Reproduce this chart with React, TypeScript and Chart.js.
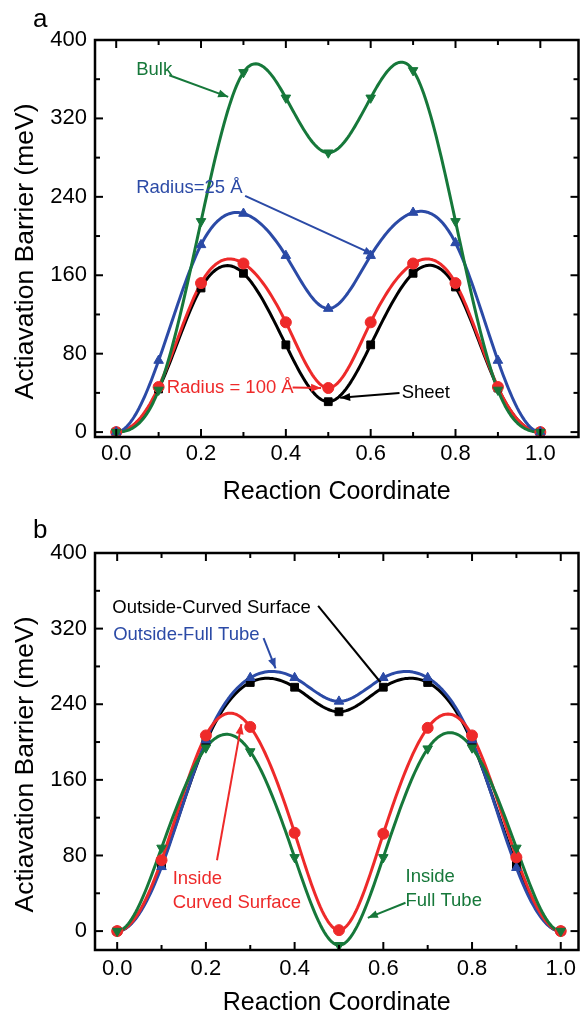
import React, { useEffect, useRef } from 'react';
import { Chart, registerables } from 'chart.js';

Chart.register(...registerables);

const FONT = '"Liberation Sans", Arial, Helvetica, sans-serif';

// ---------- data ----------
const reactionCoord = [0, 0.1, 0.2, 0.3, 0.4, 0.5, 0.6, 0.7, 0.8, 0.9, 1.0];
const xTickValues = [0, 0.2, 0.4, 0.6, 0.8, 1.0];
const xMinorTicks = [0.1, 0.3, 0.5, 0.7, 0.9];
const yTickValues = [0, 80, 160, 240, 320, 400];
const yMinorTicks = [40, 120, 200, 280, 360];

// panel a
const sheetA = [0, 44, 147, 162, 89, 31, 89, 162, 148, 45, 0];
const radius100A = [0, 46, 152, 172, 112, 45, 112, 172, 152, 46, 0];
const radius25A = [0, 73, 191, 223, 180, 126, 180, 224, 193, 73, 0];
const bulkA = [0, 43, 215, 367, 341, 285, 341, 369, 215, 43, 0];

// panel b
const outsideCurvedB = [0, 70, 200, 263, 258, 232, 258, 263, 200, 70, 0];
const outsideFullB = [0, 68, 202, 268, 268, 243, 268, 268, 202, 67, 0];
const insideCurvedB = [0, 75, 207, 216, 104, 1, 103, 215, 207, 78, 0];
const insideFullB = [0, 88, 194, 190, 78, -15, 78, 193, 194, 88, 0];

const GREEN = '#16783a';
const BLUE = '#2b4aa6';
const RED = '#ee2a2a';
const BLACK = '#000000';

type Ann = { lines: string[]; x: number; y: number; color: string; arrow?: [number, number, number, number]; head?: boolean };

const annotationsA: Ann[] = [
  { lines: ['Bulk'], x: 0.047, y: 369, color: GREEN, arrow: [0.125, 364, 0.264, 342], head: true },
  { lines: ['Radius=25 Å'], x: 0.047, y: 249, color: BLUE, arrow: [0.304, 241, 0.607, 181], head: true },
  { lines: ['Radius = 100 Å'], x: 0.119, y: 45, color: RED, arrow: [0.416, 45.5, 0.483, 45], head: true },
  { lines: ['Sheet'], x: 0.673, y: 40, color: BLACK, arrow: [0.668, 40, 0.528, 35], head: true },
];

const annotationsB: Ann[] = [
  { lines: ['Outside-Curved Surface'], x: -0.011, y: 342, color: BLACK, arrow: [0.453, 344, 0.594, 263], head: false },
  { lines: ['Outside-Full Tube'], x: -0.009, y: 313, color: BLUE, arrow: [0.330, 310, 0.357, 278], head: true },
  { lines: ['Inside', 'Curved Surface'], x: 0.125, y: 55, color: RED, arrow: [0.225, 75, 0.28, 219], head: true },
  { lines: ['Inside', 'Full Tube'], x: 0.65, y: 57, color: GREEN, arrow: [0.65, 30, 0.565, 14], head: true },
];

// clamped (zero end slope) cubic spline through the data points
function splineSecondDerivs(xs: number[], ys: number[]): number[] {
  const n = xs.length;
  const a = new Array(n).fill(0);
  const b = new Array(n).fill(0);
  const c = new Array(n).fill(0);
  const d = new Array(n).fill(0);
  const h0 = xs[1] - xs[0];
  b[0] = 2 * h0;
  c[0] = h0;
  d[0] = 6 * ((ys[1] - ys[0]) / h0);
  for (let i = 1; i < n - 1; i++) {
    const hl = xs[i] - xs[i - 1];
    const hr = xs[i + 1] - xs[i];
    a[i] = hl;
    b[i] = 2 * (hl + hr);
    c[i] = hr;
    d[i] = 6 * ((ys[i + 1] - ys[i]) / hr - (ys[i] - ys[i - 1]) / hl);
  }
  const hn = xs[n - 1] - xs[n - 2];
  a[n - 1] = hn;
  b[n - 1] = 2 * hn;
  d[n - 1] = 6 * (0 - (ys[n - 1] - ys[n - 2]) / hn);
  // Thomas algorithm
  for (let i = 1; i < n; i++) {
    const m = a[i] / b[i - 1];
    b[i] -= m * c[i - 1];
    d[i] -= m * d[i - 1];
  }
  const M = new Array(n).fill(0);
  M[n - 1] = d[n - 1] / b[n - 1];
  for (let i = n - 2; i >= 0; i--) M[i] = (d[i] - c[i] * M[i + 1]) / b[i];
  return M;
}

const splinePlugin = {
  id: 'smoothLines',
  beforeDatasetsDraw(chart: any) {
    const { ctx } = chart;
    const xs = chart.scales.x;
    const ys = chart.scales.y;
    const metas = chart.getSortedVisibleDatasetMetas().slice().reverse();
    ctx.save();
    metas.forEach((meta: any) => {
      const ds = chart.data.datasets[meta.index];
      const px = ds.data.map((p: any) => p.x);
      const py = ds.data.map((p: any) => p.y);
      const M = splineSecondDerivs(px, py);
      ctx.strokeStyle = ds.borderColor;
      ctx.lineWidth = 3;
      ctx.lineJoin = 'round';
      ctx.lineCap = 'round';
      ctx.beginPath();
      for (let i = 0; i < px.length - 1; i++) {
        const h = px[i + 1] - px[i];
        const steps = 24;
        for (let k = i === 0 ? 0 : 1; k <= steps; k++) {
          const x = px[i] + (h * k) / steps;
          const A = px[i + 1] - x;
          const B = x - px[i];
          const y =
            (M[i] * A * A * A) / (6 * h) +
            (M[i + 1] * B * B * B) / (6 * h) +
            (py[i] / h - (M[i] * h) / 6) * A +
            (py[i + 1] / h - (M[i + 1] * h) / 6) * B;
          const X = xs.getPixelForValue(x);
          const Y = ys.getPixelForValue(y);
          if (i === 0 && k === 0) ctx.moveTo(X, Y);
          else ctx.lineTo(X, Y);
        }
      }
      ctx.stroke();
    });
    ctx.restore();
  },
};

// ---------- plugin: frame, inward ticks, annotations ----------
const frameTicksPlugin = {
  id: 'frameTicks',
  afterDraw(chart: any, _args: any, opts: any) {
    const { ctx, chartArea } = chart;
    const { left, right, top, bottom } = chartArea;
    const xs = chart.scales.x;
    const ys = chart.scales.y;
    ctx.save();
    ctx.strokeStyle = '#000';
    ctx.lineWidth = 2.5;
    ctx.strokeRect(left, top, right - left, bottom - top);
    ctx.lineWidth = 2;
    const seg = (x1: number, y1: number, x2: number, y2: number) => {
      ctx.beginPath();
      ctx.moveTo(x1, y1);
      ctx.lineTo(x2, y2);
      ctx.stroke();
    };
    const maj = 8;
    const mnr = 5;
    xTickValues.forEach((v) => {
      const p = xs.getPixelForValue(v);
      seg(p, bottom, p, bottom - maj);
      seg(p, top, p, top + maj);
    });
    xMinorTicks.forEach((v) => {
      const p = xs.getPixelForValue(v);
      seg(p, bottom, p, bottom - mnr);
      seg(p, top, p, top + mnr);
    });
    yTickValues.forEach((v) => {
      const p = ys.getPixelForValue(v);
      seg(left, p, left + maj, p);
      seg(right, p, right - maj, p);
    });
    yMinorTicks.forEach((v) => {
      const p = ys.getPixelForValue(v);
      seg(left, p, left + mnr, p);
      seg(right, p, right - mnr, p);
    });

    // annotations
    const anns: Ann[] = opts.annotations || [];
    anns.forEach((a) => {
      ctx.fillStyle = a.color;
      ctx.strokeStyle = a.color;
      ctx.font = `18.5px ${FONT}`;
      ctx.textAlign = 'left';
      ctx.textBaseline = 'middle';
      const tx = xs.getPixelForValue(a.x);
      const ty = ys.getPixelForValue(a.y);
      a.lines.forEach((l, i) => ctx.fillText(l, tx, ty + i * 24));
      if (a.arrow) {
        const [ax1, ay1, ax2, ay2] = a.arrow;
        const x1 = xs.getPixelForValue(ax1);
        const y1 = ys.getPixelForValue(ay1);
        const x2 = xs.getPixelForValue(ax2);
        const y2 = ys.getPixelForValue(ay2);
        ctx.lineWidth = 2;
        seg(x1, y1, x2, y2);
        if (a.head) {
          const ang = Math.atan2(y2 - y1, x2 - x1);
          const L = 10;
          const W = 4;
          ctx.beginPath();
          ctx.moveTo(x2, y2);
          ctx.lineTo(x2 - L * Math.cos(ang) + W * Math.sin(ang), y2 - L * Math.sin(ang) - W * Math.cos(ang));
          ctx.lineTo(x2 - L * Math.cos(ang) - W * Math.sin(ang), y2 - L * Math.sin(ang) + W * Math.cos(ang));
          ctx.closePath();
          ctx.fill();
        }
      }
    });

    // y-axis title (placed slightly below the chart-area centre, as in the original)
    ctx.save();
    ctx.fillStyle = '#000';
    ctx.font = `26.5px ${FONT}`;
    ctx.textAlign = 'center';
    ctx.textBaseline = 'middle';
    ctx.translate(26, (top + bottom) / 2 + 13);
    ctx.rotate(-Math.PI / 2);
    ctx.fillText('Actiavation Barrier (meV)', 0, 0);
    ctx.restore();

    // panel letter
    if (opts.letter) {
      ctx.fillStyle = '#000';
      ctx.font = `26px ${FONT}`;
      ctx.textAlign = 'left';
      ctx.textBaseline = 'alphabetic';
      ctx.fillText(opts.letter, opts.letterX, opts.letterY);
    }
    ctx.restore();
  },
};

type Series = { label: string; values: number[]; color: string; style: string; rotation: number; order: number };

type PanelSpec = {
  series: Series[];
  xMin: number;
  xMax: number;
  yMin: number;
  yMax: number;
  padTop: number;
  xAxisHeight: number;
  xTitlePad: number;
  xTickPad: number;
  annotations: Ann[];
  letter: string;
  letterX: number;
  letterY: number;
};

function makeConfig(p: PanelSpec): any {
  return {
    type: 'line',
    data: {
      datasets: p.series.map((s) => ({
        label: s.label,
        data: reactionCoord.map((x, i) => ({ x, y: s.values[i] })),
        borderColor: s.color,
        backgroundColor: s.color,
        pointBackgroundColor: s.color,
        pointBorderColor: s.color,
        pointStyle: s.style,
        pointRotation: s.rotation,
        pointRadius: 5.5,
        pointBorderWidth: 1,
        borderWidth: 3,
        showLine: false,
        fill: false,
        clip: false,
        order: s.order,
      })),
    },
    options: {
      responsive: false,
      animation: false,
      devicePixelRatio: 1,
      events: [],
      layout: { padding: { left: 0, top: p.padTop, right: 2, bottom: 0 } },
      plugins: {
        legend: { display: false },
        tooltip: { enabled: false },
        frameTicks: { annotations: p.annotations, letter: p.letter, letterX: p.letterX, letterY: p.letterY },
      },
      scales: {
        x: {
          type: 'linear',
          min: p.xMin,
          max: p.xMax,
          afterBuildTicks: (s: any) => {
            s.ticks = xTickValues.map((v) => ({ value: v }));
          },
          afterFit: (s: any) => {
            s.height = p.xAxisHeight;
          },
          grid: { display: false, drawTicks: false },
          border: { display: false },
          ticks: {
            color: '#000',
            font: { family: FONT, size: 22 },
            padding: p.xTickPad,
            maxRotation: 0,
            autoSkip: false,
            callback: (v: any) => Number(v).toFixed(1),
          },
          title: {
            display: true,
            text: 'Reaction Coordinate',
            color: '#000',
            font: { family: FONT, size: 25 },
            padding: { top: 0, bottom: p.xTitlePad },
          },
        },
        y: {
          type: 'linear',
          min: p.yMin,
          max: p.yMax,
          afterBuildTicks: (s: any) => {
            s.ticks = yTickValues.map((v) => ({ value: v }));
          },
          afterFit: (s: any) => {
            s.width = 95;
          },
          grid: { display: false, drawTicks: false },
          border: { display: false },
          ticks: {
            color: '#000',
            font: { family: FONT, size: 22 },
            padding: 8,
            autoSkip: false,
          },
          title: { display: false },
        },
      },
    },
    plugins: [splinePlugin, frameTicksPlugin],
  };
}

const panelA: PanelSpec = {
  series: [
    { label: 'Sheet', values: sheetA, color: BLACK, style: 'rect', rotation: 0, order: 3 },
    { label: 'Radius = 100 Å', values: radius100A, color: RED, style: 'circle', rotation: 0, order: 2 },
    { label: 'Radius=25 Å', values: radius25A, color: BLUE, style: 'triangle', rotation: 0, order: 1 },
    { label: 'Bulk', values: bulkA, color: GREEN, style: 'triangle', rotation: 180, order: 0 },
  ],
  xMin: -0.05,
  xMax: 1.09,
  yMin: -5,
  yMax: 400,
  padTop: 40,
  xAxisHeight: 68,
  xTitlePad: -2,
  xTickPad: 4,
  annotations: annotationsA,
  letter: 'a',
  letterX: 33,
  letterY: 27,
};

const panelB: PanelSpec = {
  series: [
    { label: 'Outside-Curved Surface', values: outsideCurvedB, color: BLACK, style: 'rect', rotation: 0, order: 3 },
    { label: 'Outside-Full Tube', values: outsideFullB, color: BLUE, style: 'triangle', rotation: 0, order: 2 },
    { label: 'Inside Curved Surface', values: insideCurvedB, color: RED, style: 'circle', rotation: 0, order: 1 },
    { label: 'Inside Full Tube', values: insideFullB, color: GREEN, style: 'triangle', rotation: 180, order: 0 },
  ],
  xMin: -0.05,
  xMax: 1.04,
  yMin: -20,
  yMax: 400,
  padTop: 48,
  xAxisHeight: 69,
  xTitlePad: 1,
  xTickPad: 6,
  annotations: annotationsB,
  letter: 'b',
  letterX: 33,
  letterY: 33,
};

function Panel({ spec, top, height }: { spec: PanelSpec; top: number; height: number }) {
  const ref = useRef<HTMLCanvasElement | null>(null);
  useEffect(() => {
    if (!ref.current) return;
    const chart = new Chart(ref.current, makeConfig(spec));
    return () => chart.destroy();
  }, [spec]);
  return (
    <div style={{ position: 'absolute', left: 0, top, width: 585, height }}>
      <canvas ref={ref} width={585} height={height} style={{ display: 'block', width: 585, height }} />
    </div>
  );
}

export default function App() {
  return (
    <div style={{ position: 'absolute', left: 0, top: 0, width: 585, height: 1019, background: '#fff' }}>
      <Panel spec={panelA} top={0} height={505} />
      <Panel spec={panelB} top={505} height={514} />
    </div>
  );
}
